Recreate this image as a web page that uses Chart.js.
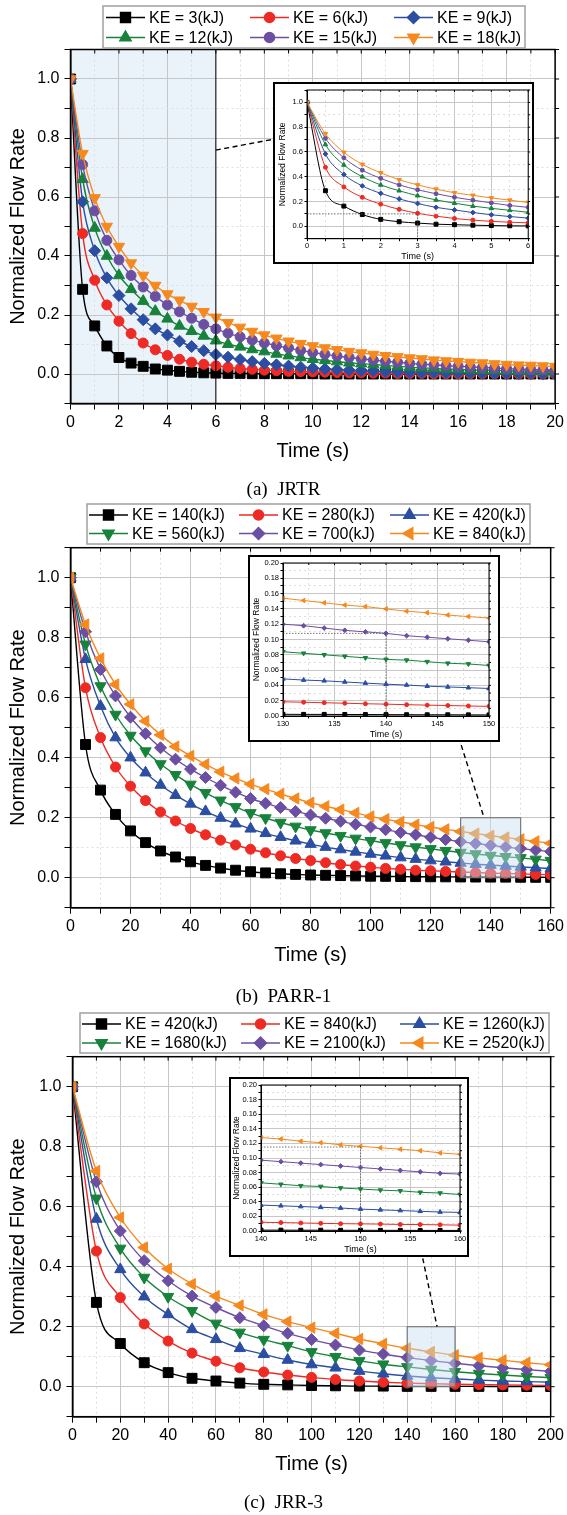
<!DOCTYPE html>
<html>
<head>
<meta charset="utf-8">
<title>Normalized flow rate</title>
<script src="https://cdn.jsdelivr.net/npm/chart.js@4.4.1/dist/chart.umd.min.js"></script>
<style>
  body { margin: 0; background: #fff; }
  #page { position: relative; width: 567px; height: 1515px; overflow: hidden; background: #fff; }
  #page > canvas { position: absolute; }
  .inset { position: absolute; border: 2px solid #000; background: #fff; }
  .inset canvas { display: block; }
</style>
</head>
<body>
<div id="page">
  <canvas id="mainA" width="567" height="500" style="left:0;top:0"></canvas>
  <canvas id="mainB" width="567" height="505" style="left:0;top:500px"></canvas>
  <canvas id="mainC" width="567" height="510" style="left:0;top:1005px"></canvas>
  <div class="inset" style="left:273px;top:82px;width:257px;height:178px"><canvas id="insetA" width="257" height="178"></canvas></div>
  <div class="inset" style="left:248px;top:555px;width:248px;height:183px"><canvas id="insetB" width="248" height="183"></canvas></div>
  <div class="inset" style="left:229px;top:1077px;width:236px;height:176px"><canvas id="insetC" width="236" height="176"></canvas></div>
</div>
<script>
// ---------------- data ----------------

// (a) JRTR, one marker every 0.5 s
const timeA = [0, 0.5, 1, 1.5, 2, 2.5, 3, 3.5, 4, 4.5, 5, 5.5, 6, 6.5, 7, 7.5, 8, 8.5, 9, 9.5, 10,
  10.5, 11, 11.5, 12, 12.5, 13, 13.5, 14, 14.5, 15, 15.5, 16, 16.5, 17, 17.5, 18, 18.5, 19, 19.5, 20];
const labelsA = ['KE = 3(kJ)', 'KE = 6(kJ)', 'KE = 9(kJ)', 'KE = 12(kJ)', 'KE = 15(kJ)', 'KE = 18(kJ)'];
const jrtr3 = [1.000, 0.287, 0.163, 0.095, 0.056, 0.037, 0.026, 0.017, 0.013, 0.009, 0.006, 0.004, 0.003, 0.002,
  0.002, 0.001, 0.001, 0.001, 0.001, 0.001, 0.001, 0.000, 0.000, 0.000, 0.000, 0.000, 0.000, 0.000, 0.000,
  0.000, 0.000, 0.000, 0.000, 0.000, 0.000, 0.000, 0.000, 0.000, 0.000, 0.000, 0.000];
const jrtr6 = [1.000, 0.476, 0.318, 0.234, 0.179, 0.137, 0.105, 0.082, 0.063, 0.050, 0.040, 0.033, 0.028, 0.023,
  0.019, 0.016, 0.013, 0.011, 0.009, 0.008, 0.007, 0.006, 0.005, 0.004, 0.004, 0.003, 0.003, 0.002, 0.002,
  0.002, 0.001, 0.001, 0.001, 0.001, 0.001, 0.001, 0.001, 0.000, 0.000, 0.000, 0.000];
const jrtr9 = [1.000, 0.584, 0.418, 0.326, 0.266, 0.221, 0.184, 0.153, 0.132, 0.111, 0.093, 0.079, 0.066, 0.057,
  0.049, 0.042, 0.036, 0.031, 0.027, 0.023, 0.020, 0.017, 0.015, 0.013, 0.011, 0.010, 0.008, 0.007, 0.006,
  0.005, 0.005, 0.004, 0.004, 0.003, 0.003, 0.002, 0.002, 0.002, 0.002, 0.001, 0.001];
const jrtr12 = [1.000, 0.660, 0.495, 0.400, 0.334, 0.287, 0.247, 0.213, 0.187, 0.163, 0.145, 0.129, 0.113, 0.101,
  0.092, 0.083, 0.076, 0.068, 0.062, 0.056, 0.050, 0.046, 0.042, 0.038, 0.035, 0.032, 0.029, 0.026, 0.023,
  0.021, 0.019, 0.017, 0.016, 0.014, 0.013, 0.012, 0.011, 0.010, 0.009, 0.008, 0.007];
const jrtr15 = [1.000, 0.710, 0.553, 0.453, 0.387, 0.334, 0.295, 0.263, 0.234, 0.211, 0.189, 0.168, 0.153, 0.138,
  0.126, 0.115, 0.105, 0.096, 0.088, 0.080, 0.073, 0.067, 0.061, 0.056, 0.051, 0.047, 0.043, 0.040, 0.036,
  0.033, 0.031, 0.028, 0.026, 0.024, 0.022, 0.020, 0.018, 0.017, 0.015, 0.014, 0.013];
const jrtr18 = [1.000, 0.747, 0.597, 0.500, 0.432, 0.376, 0.334, 0.300, 0.271, 0.250, 0.229, 0.211, 0.192, 0.174,
  0.158, 0.144, 0.132, 0.121, 0.111, 0.103, 0.095, 0.088, 0.082, 0.076, 0.071, 0.066, 0.062, 0.058, 0.054,
  0.051, 0.047, 0.044, 0.042, 0.039, 0.037, 0.034, 0.032, 0.030, 0.029, 0.027, 0.025];

// (b) PARR-1, one marker every 5 s
const timeB = [0, 5, 10, 15, 20, 25, 30, 35, 40, 45, 50, 55, 60, 65, 70, 75, 80, 85, 90, 95, 100,
  105, 110, 115, 120, 125, 130, 135, 140, 145, 150, 155, 160];
const labelsB = ['KE = 140(kJ)', 'KE = 280(kJ)', 'KE = 420(kJ)', 'KE = 560(kJ)', 'KE = 700(kJ)', 'KE = 840(kJ)'];
const parr140 = [1.000, 0.444, 0.292, 0.211, 0.156, 0.117, 0.089, 0.069, 0.053, 0.041, 0.032, 0.025, 0.020, 0.016,
  0.013, 0.011, 0.009, 0.008, 0.007, 0.006, 0.005, 0.0045, 0.004, 0.0035, 0.003, 0.0028, 0.0025, 0.0022, 0.002,
  0.0018, 0.0015, 0.0013, 0.0012];
const parr280 = [1.000, 0.633, 0.467, 0.369, 0.305, 0.257, 0.219, 0.189, 0.164, 0.143, 0.125, 0.109, 0.095, 0.083,
  0.073, 0.064, 0.057, 0.050, 0.044, 0.039, 0.035, 0.031, 0.028, 0.025, 0.023, 0.021, 0.019, 0.017, 0.015,
  0.014, 0.013, 0.011, 0.010];
const parr420 = [1.000, 0.728, 0.572, 0.467, 0.400, 0.350, 0.309, 0.275, 0.246, 0.221, 0.199, 0.180, 0.163, 0.148,
  0.135, 0.123, 0.112, 0.102, 0.094, 0.086, 0.079, 0.073, 0.067, 0.062, 0.057, 0.053, 0.049, 0.045, 0.042,
  0.039, 0.036, 0.033, 0.031];
const parr560 = [1.000, 0.778, 0.639, 0.544, 0.474, 0.422, 0.379, 0.343, 0.311, 0.283, 0.258, 0.236, 0.216, 0.199,
  0.184, 0.171, 0.159, 0.149, 0.140, 0.131, 0.123, 0.116, 0.109, 0.102, 0.096, 0.090, 0.084, 0.079, 0.074,
  0.070, 0.066, 0.061, 0.057];
const parr700 = [1.000, 0.820, 0.694, 0.606, 0.535, 0.480, 0.433, 0.395, 0.362, 0.334, 0.308, 0.285, 0.264, 0.248,
  0.234, 0.221, 0.209, 0.198, 0.188, 0.178, 0.169, 0.160, 0.151, 0.143, 0.135, 0.127, 0.120, 0.114, 0.108,
  0.102, 0.097, 0.092, 0.087];
const parr840 = [1.000, 0.844, 0.731, 0.644, 0.578, 0.522, 0.476, 0.437, 0.406, 0.378, 0.353, 0.331, 0.312, 0.295,
  0.279, 0.264, 0.250, 0.238, 0.227, 0.216, 0.204, 0.195, 0.186, 0.177, 0.169, 0.161, 0.154, 0.147, 0.140,
  0.134, 0.128, 0.121, 0.115];
// (b) inset, 130-150 s every 2 s
const timeBZoom = [130, 132, 134, 136, 138, 140, 142, 144, 146, 148, 150];
const parrZoom140 = [0.0022, 0.0021, 0.0021, 0.0020, 0.0019, 0.0018, 0.0017, 0.0016, 0.0016, 0.0015, 0.0014];
const parrZoom280 = [0.0186, 0.0180, 0.0173, 0.0167, 0.0160, 0.0155, 0.0148, 0.0142, 0.0137, 0.0131, 0.0126];
const parrZoom420 = [0.0485, 0.0470, 0.0460, 0.0445, 0.0430, 0.0416, 0.0405, 0.0390, 0.0380, 0.0370, 0.0360];
const parrZoom560 = [0.084, 0.082, 0.080, 0.078, 0.076, 0.074, 0.073, 0.071, 0.069, 0.068, 0.066];
const parrZoom700 = [0.120, 0.118, 0.115, 0.112, 0.110, 0.108, 0.105, 0.103, 0.101, 0.099, 0.097];
const parrZoom840 = [0.154, 0.151, 0.148, 0.145, 0.143, 0.140, 0.137, 0.135, 0.132, 0.130, 0.128];

// (c) JRR-3, one marker every 10 s
const timeC = [0, 10, 20, 30, 40, 50, 60, 70, 80, 90, 100, 110, 120, 130, 140, 150, 160, 170, 180, 190, 200];
const labelsC = ['KE = 420(kJ)', 'KE = 840(kJ)', 'KE = 1260(kJ)', 'KE = 1680(kJ)', 'KE = 2100(kJ)', 'KE = 2520(kJ)'];
const jrr420 = [1.000, 0.281, 0.144, 0.080, 0.047, 0.028, 0.019, 0.012, 0.008, 0.006, 0.004, 0.003, 0.002, 0.002,
  0.001, 0.001, 0.001, 0.001, 0.0005, 0.0005, 0.0005];
const jrr840 = [1.000, 0.452, 0.297, 0.209, 0.152, 0.112, 0.085, 0.063, 0.049, 0.039, 0.031, 0.024, 0.019, 0.015,
  0.012, 0.010, 0.008, 0.007, 0.006, 0.005, 0.004];
const jrr1260 = [1.000, 0.559, 0.391, 0.300, 0.241, 0.191, 0.158, 0.128, 0.108, 0.089, 0.074, 0.063, 0.052, 0.043,
  0.0355, 0.030, 0.026, 0.022, 0.019, 0.017, 0.015];
const jrr1680 = [1.000, 0.628, 0.461, 0.364, 0.300, 0.253, 0.211, 0.181, 0.157, 0.137, 0.116, 0.100, 0.086, 0.075,
  0.066, 0.0575, 0.050, 0.044, 0.039, 0.034, 0.030];
const jrr2100 = [1.000, 0.683, 0.519, 0.420, 0.353, 0.302, 0.264, 0.230, 0.203, 0.178, 0.157, 0.139, 0.122, 0.109,
  0.097, 0.087, 0.078, 0.070, 0.063, 0.057, 0.051];
const jrr2520 = [1.000, 0.719, 0.564, 0.464, 0.393, 0.342, 0.302, 0.271, 0.241, 0.217, 0.197, 0.178, 0.159, 0.143,
  0.128, 0.116, 0.105, 0.096, 0.088, 0.080, 0.073];
// (c) inset, 140-160 s every 2 s
const timeCZoom = [140, 142, 144, 146, 148, 150, 152, 154, 156, 158, 160];
const jrrZoom420 = [0.0012, 0.0012, 0.0011, 0.0011, 0.0010, 0.0010, 0.0009, 0.0009, 0.0008, 0.0008, 0.0008];
const jrrZoom840 = [0.0120, 0.0115, 0.0110, 0.0105, 0.0100, 0.0098, 0.0095, 0.0090, 0.0088, 0.0085, 0.0080];
const jrrZoom1260 = [0.0355, 0.0345, 0.0335, 0.0325, 0.0315, 0.0300, 0.0290, 0.0280, 0.0270, 0.0260, 0.0255];
const jrrZoom1680 = [0.066, 0.064, 0.062, 0.061, 0.059, 0.0575, 0.056, 0.055, 0.053, 0.052, 0.050];
const jrrZoom2100 = [0.097, 0.095, 0.093, 0.091, 0.089, 0.087, 0.085, 0.083, 0.081, 0.079, 0.078];
const jrrZoom2520 = [0.128, 0.126, 0.123, 0.121, 0.118, 0.116, 0.114, 0.112, 0.110, 0.107, 0.105];

// ---------------- styles ----------------
const FONT = '"Liberation Sans", Arial, Helvetica, sans-serif';
Chart.defaults.font.family = FONT;
Chart.defaults.color = '#000';

const COLORS = ['#000000', '#ee2a24', '#2b4ea2', '#17823b', '#6b4fa2', '#f5891f'];
// [pointStyle, radius, rotation]
const marksA = [['rect', 7, 0], ['circle', 5, 0], ['rectRot', 6, 0], ['triangle', 6.5, 0], ['circle', 5, 0], ['triangle', 6.5, 180]];
const marksBC = [['rect', 7, 0], ['circle', 5, 0], ['triangle', 6.5, 0], ['triangle', 6.5, 180], ['rectRot', 6, 0], ['triangle', 6.5, 270]];

function isStep(v, m) {
  const q = v / m;
  return Math.abs(q - Math.round(q)) < 1e-6;
}
function fix(v, d) {
  const f = Math.pow(10, d);
  return (Math.round(v * f) / f + 0).toFixed(d);
}

function makeSets(time, series, labels, marks, k, lw) {
  return series.map((vals, i) => ({
    label: labels[i],
    data: time.map((t, j) => ({ x: t, y: vals[j] })),
    borderColor: COLORS[i],
    backgroundColor: COLORS[i],
    pointBackgroundColor: COLORS[i],
    pointBorderColor: COLORS[i],
    borderWidth: lw,
    pointBorderWidth: 1,
    pointStyle: marks[i][0],
    pointRadius: marks[i][1] * k,
    pointRotation: marks[i][2],
    pointHoverRadius: 0,
    cubicInterpolationMode: 'monotone',
    fill: false,
    order: series.length - i
  }));
}

// one linear axis, fixed thickness, labels only on the major steps
function axisCfg(o, horizontal) {
  return {
    type: 'linear',
    position: horizontal ? 'bottom' : 'left',
    min: o.min, max: o.max,
    afterFit: s => { if (horizontal) s.height = o.size; else s.width = o.size; },
    ticks: {
      stepSize: o.step, autoSkip: false, maxRotation: 0, padding: o.pad,
      font: { size: o.fs }, color: '#000',
      callback: v => (isStep(v, o.major) && v >= o.lo - 1e-9 && v <= o.hi + 1e-9) ? fix(v, o.dec) : ''
    },
    grid: {
      color: c => (c.tick && isStep(c.tick.value, o.major)) ? '#c6c6c6' : '#dedede',
      lineWidth: 1, tickColor: '#000', tickLength: o.tl, tickWidth: 1, tickBorderDash: []
    },
    border: {
      color: '#000', width: o.bw,
      dash: c => (c.tick && !isStep(c.tick.value, o.major)) ? [2, 3] : []
    },
    title: {
      display: true, text: o.text, color: '#000', font: { size: o.tfs },
      padding: horizontal ? { top: 0, bottom: o.tpad } : { top: o.tpad, bottom: 0 }
    }
  };
}

// ---------------- decorations (legend, caption, zoom frames) ----------------
const deco = {};
function marker(ctx, m, k, x, y) {
  if (Chart.helpers && Chart.helpers.drawPoint) {
    Chart.helpers.drawPoint(ctx, { pointStyle: m[0], radius: m[1] * k, rotation: m[2], borderWidth: 1 }, x, y);
  } else {
    ctx.beginPath(); ctx.arc(x, y, m[1] * k * 0.8, 0, Math.PI * 2); ctx.fill();
  }
}
const decorPlugin = {
  id: 'decor',
  beforeDraw(chart) {
    const d = deco[chart.canvas.id];
    if (!d || !d.band) return;
    const { ctx, chartArea: a, scales: { x } } = chart;
    const x0 = x.getPixelForValue(d.band[0]), x1 = x.getPixelForValue(d.band[1]);
    ctx.save();
    ctx.fillStyle = '#eaf2fa';
    ctx.fillRect(x0, a.top, x1 - x0, a.bottom - a.top);
    ctx.restore();
  },
  afterDatasetsDraw(chart) {
    const d = deco[chart.canvas.id];
    if (!d) return;
    const { ctx, chartArea: a, scales: { x, y } } = chart;
    ctx.save();
    if (d.box) {
      const x0 = x.getPixelForValue(d.box[0]), x1 = x.getPixelForValue(d.box[1]);
      const y0 = y.getPixelForValue(d.box[3]), y1 = y.getPixelForValue(d.box[2]);
      ctx.fillStyle = 'rgba(200, 222, 242, 0.45)';
      ctx.fillRect(x0, y0, x1 - x0, y1 - y0);
      ctx.strokeStyle = '#7a7a7a';
      ctx.lineWidth = 1.2;
      ctx.strokeRect(x0, y0, x1 - x0, y1 - y0);
    }
    if (d.band) {
      const xe = x.getPixelForValue(d.band[1]);
      ctx.strokeStyle = '#000';
      ctx.lineWidth = 1;
      ctx.beginPath(); ctx.moveTo(xe, a.top); ctx.lineTo(xe, a.bottom); ctx.stroke();
    }
    if (d.guide) {
      const [g0, g1, gy] = d.guide;
      ctx.strokeStyle = '#555';
      ctx.lineWidth = 0.8;
      ctx.setLineDash([1.5, 1.5]);
      ctx.beginPath();
      ctx.moveTo(x.getPixelForValue(g0), y.getPixelForValue(gy));
      ctx.lineTo(x.getPixelForValue(g1), y.getPixelForValue(gy));
      ctx.lineTo(x.getPixelForValue(g1), a.bottom);
      ctx.stroke();
      ctx.setLineDash([]);
    }
    // full frame plus mirrored ticks on top / right
    ctx.strokeStyle = '#000';
    ctx.lineWidth = d.frame;
    ctx.strokeRect(a.left, a.top, a.right - a.left, a.bottom - a.top);
    ctx.lineWidth = 1;
    ctx.beginPath();
    x.ticks.forEach(t => {
      const px = x.getPixelForValue(t.value);
      ctx.moveTo(px, a.top); ctx.lineTo(px, a.top + d.tick);
    });
    y.ticks.forEach(t => {
      const py = y.getPixelForValue(t.value);
      ctx.moveTo(a.right, py); ctx.lineTo(a.right + d.tick, py);
    });
    ctx.stroke();
    ctx.restore();
  },
  afterDraw(chart) {
    const d = deco[chart.canvas.id];
    if (!d) return;
    const { ctx, scales: { x, y } } = chart;
    ctx.save();
    if (d.link) {
      const [[ax, ay], [bx, by]] = d.link;
      ctx.strokeStyle = '#000';
      ctx.lineWidth = 1.4;
      ctx.setLineDash([5, 3.5]);
      ctx.beginPath();
      ctx.moveTo(x.getPixelForValue(ax), y.getPixelForValue(ay));
      ctx.lineTo(x.getPixelForValue(bx), y.getPixelForValue(by));
      ctx.stroke();
      ctx.setLineDash([]);
    }
    if (d.legend) {
      const L = d.legend;
      ctx.strokeStyle = '#a0a0a0';
      ctx.lineWidth = 1.5;
      ctx.strokeRect(L.box[0], L.box[1], L.box[2] - L.box[0], L.box[3] - L.box[1]);
      ctx.font = '16px ' + FONT;
      ctx.textBaseline = 'middle';
      ctx.textAlign = 'left';
      L.labels.forEach((lab, i) => {
        const cx = L.cols[i % 3], cy = L.rows[Math.floor(i / 3)];
        ctx.strokeStyle = COLORS[i];
        ctx.fillStyle = COLORS[i];
        ctx.lineWidth = 1.5;
        ctx.beginPath(); ctx.moveTo(cx, cy); ctx.lineTo(cx + 39, cy); ctx.stroke();
        marker(ctx, L.marks[i], 1, cx + 19.5, cy);
        ctx.fillStyle = '#000';
        ctx.fillText(lab, cx + 43, cy + 1);
      });
    }
    if (d.caption) {
      ctx.fillStyle = '#000';
      ctx.font = '19px "Liberation Serif", "Times New Roman", serif';
      ctx.textAlign = 'center';
      ctx.textBaseline = 'middle';
      ctx.fillText(d.caption[0], 283.5, d.caption[1]);
    }
    ctx.restore();
  }
};

function mainChart(id, p) {
  deco[id] = p.deco;
  return new Chart(document.getElementById(id), {
    type: 'line',
    data: { datasets: makeSets(p.time, p.series, p.labels, p.marks, 1, 1.4) },
    options: {
      responsive: false, animation: false, devicePixelRatio: 1,
      layout: { padding: { top: p.pad[0], right: p.pad[1], bottom: p.pad[2], left: 0 } },
      plugins: { legend: { display: false }, tooltip: { enabled: false } },
      scales: {
        x: axisCfg({ min: p.xr[0], max: p.xr[1], step: p.xr[2], major: p.xr[3], dec: 0, lo: p.xr[0], hi: p.xr[1],
          size: 60, fs: 16, tl: 6, pad: 3, bw: 1.5, tfs: 20, tpad: 0.5, text: 'Time (s)' }, true),
        y: axisCfg({ min: -0.1, max: 1.1, step: 0.1, major: 0.2, dec: 1, lo: 0, hi: 1,
          size: p.yw, fs: 16, tl: 6, pad: 5, bw: 1.5, tfs: 20, tpad: 6, text: 'Normalized Flow Rate' }, false)
      }
    },
    plugins: [decorPlugin]
  });
}

function insetChart(id, p) {
  deco[id] = p.deco;
  return new Chart(document.getElementById(id), {
    type: 'line',
    data: { datasets: makeSets(p.time, p.series, p.labels, p.marks, 0.4, 1) },
    options: {
      responsive: false, animation: false, devicePixelRatio: 1,
      layout: { padding: { top: p.pad[0], right: p.pad[1], bottom: 0, left: 0 } },
      plugins: { legend: { display: false }, tooltip: { enabled: false } },
      scales: {
        x: axisCfg({ min: p.xr[0], max: p.xr[1], step: p.xr[2], major: p.xr[3], dec: 0, lo: p.xr[0], hi: p.xr[1],
          size: p.xh, fs: 7.5, tl: 2.5, pad: 0.5, bw: 1, tfs: 9, tpad: 0, text: 'Time (s)' }, true),
        y: axisCfg({ min: p.yr[0], max: p.yr[1], step: p.yr[2], major: p.yr[3], dec: p.yr[4], lo: p.yr[5], hi: p.yr[6],
          size: p.yw, fs: 7.5, tl: 2.5, pad: 1.5, bw: 1, tfs: 8.5, tpad: p.ytp, text: 'Normalized Flow Rate' }, false)
      }
    },
    plugins: [decorPlugin]
  });
}

// ---------------- (a) JRTR ----------------
mainChart('mainA', {
  time: timeA, series: [jrtr3, jrtr6, jrtr9, jrtr12, jrtr15, jrtr18], labels: labelsA, marks: marksA,
  xr: [0, 20, 1, 2], yw: 70.5, pad: [49.5, 10, 36.5],
  deco: {
    band: [0, 6], frame: 1.5, tick: 4,
    link: [[6, 0.759], [8.32, 0.795]],
    legend: { box: [103, 6, 525, 48], rows: [17.5, 37.5], cols: [106, 250, 394], labels: labelsA, marks: marksA },
    caption: ['(a)  JRTR', 490]
  }
});
insetChart('insetA', {
  time: timeA, series: [jrtr3, jrtr6, jrtr9, jrtr12, jrtr15, jrtr18], labels: labelsA, marks: marksA,
  xr: [0, 6, 0.5, 1], yr: [-0.1, 1.1, 0.1, 0.2, 1, 0, 1], yw: 32, xh: 23.3, pad: [2.7, 3], ytp: 2.6,
  deco: { frame: 1, tick: 2, guide: [0, 3, 0.1] }
});

// ---------------- (b) PARR-1 ----------------
mainChart('mainB', {
  time: timeB, series: [parr140, parr280, parr420, parr560, parr700, parr840], labels: labelsB, marks: marksBC,
  xr: [0, 160, 10, 20], yw: 70.5, pad: [47.7, 15.3, 37.3],
  deco: {
    box: [130, 150, 0, 0.2], frame: 1.5, tick: 4,
    link: [[130.2, 0.442], [137.8, 0.2]],
    legend: { box: [87, 4, 530, 44], rows: [15, 33.5], cols: [89, 239, 390], labels: labelsB, marks: marksBC },
    caption: ['(b)  PARR-1', 497]
  }
});
insetChart('insetB', {
  time: timeBZoom, series: [parrZoom140, parrZoom280, parrZoom420, parrZoom560, parrZoom700, parrZoom840],
  labels: labelsB, marks: marksBC,
  xr: [130, 150, 2.5, 5], yr: [0, 0.2, 0.01, 0.02, 2, 0, 0.2], yw: 33, xh: 24, pad: [5, 9], ytp: 1.6,
  deco: { frame: 1, tick: 2, guide: [130, 140, 0.108] }
});

// ---------------- (c) JRR-3 ----------------
mainChart('mainC', {
  time: timeC, series: [jrr420, jrr840, jrr1260, jrr1680, jrr2100, jrr2520], labels: labelsC, marks: marksBC,
  xr: [0, 200, 10, 20], yw: 72.5, pad: [51.7, 14.5, 38.3],
  deco: {
    box: [140, 160, 0, 0.2], frame: 1.5, tick: 4,
    link: [[146.5, 0.428], [152.5, 0.2]],
    legend: { box: [80, 8, 549, 48], rows: [19, 38], cols: [82, 241, 400], labels: labelsC, marks: marksBC },
    caption: ['(c)  JRR-3', 498]
  }
});
insetChart('insetC', {
  time: timeCZoom, series: [jrrZoom420, jrrZoom840, jrrZoom1260, jrrZoom1680, jrrZoom2100, jrrZoom2520],
  labels: labelsC, marks: marksBC,
  xr: [140, 160, 2.5, 5], yr: [0, 0.2, 0.01, 0.02, 2, 0, 0.2], yw: 30, xh: 24, pad: [3, 7], ytp: 0.5,
  deco: { frame: 1, tick: 2, guide: [140, 150, 0.115] }
});
</script>
</body>
</html>
